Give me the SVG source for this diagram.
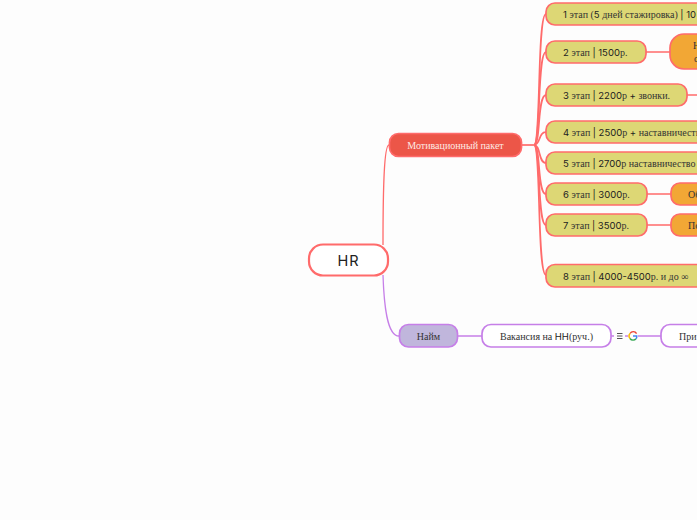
<svg xmlns="http://www.w3.org/2000/svg" width="697" height="520" viewBox="0 0 697 520">
<style>
text{font-family:"Liberation Serif",serif;font-size:10px;fill:#333}
.s{font-family:"Inter","Open Sans",sans-serif;font-size:9.500px;fill:#222}
.n{stroke:#ff6b6b;stroke-width:1.700}
.st{fill:#ddd775}
.or{fill:#f2a735}
.p{stroke:#c67fe8;stroke-width:1.700}
.c{fill:none;stroke:#ff6b6b;stroke-width:1.700}
.v{fill:none;stroke:#c67fe8;stroke-width:1.600}
</style>
<rect width="697" height="520" fill="#fdfdfd"/>
<g id="connectors">
<path class="c" d="M383 245C383 190 384 145 389 145" stroke-width="1.300" style="stroke-width:1.300"/>
<path class="v" d="M383 275C384 305 387 336 399 336" style="stroke-width:1.300"/>
<path class="c" d="M521 145H534"/>
<path class="c" d="M534 145C541 145 537 14 546 14"/>
<path class="c" d="M534 145C541 145 537 52 546 52"/>
<path class="c" d="M534 145C541 145 537 95 546 95"/>
<path class="c" d="M534 145C541 145 538 132 546 132"/>
<path class="c" d="M534 145C541 145 538 163 546 163"/>
<path class="c" d="M534 145C541 145 537 194 546 194"/>
<path class="c" d="M534 145C541 145 537 225 546 225"/>
<path class="c" d="M534 145C541 145 537 275 546 275"/>
<path class="c" d="M646 52H670M687 95H697M647 194H671M647 225H671"/>
<path class="v" d="M458 336H482M611 336H614M625 336H628M638 336H661"/>
</g>
<g id="hr"><rect class="n" x="309" y="244.500" width="79" height="31" rx="14" fill="#fff" style="stroke-width:2.200"/><text class="s" x="348.500" y="265.500" text-anchor="middle" style="font-size:14.500px;letter-spacing:1px">HR</text></g>
<g id="motiv"><rect class="n" x="389.500" y="133.500" width="132" height="23" rx="9" fill="#ec5648"/><text x="455.500" y="149" text-anchor="middle" style="fill:#fde9e4">Мотивационный пакет</text></g>
<g id="s1"><rect class="n st" x="546" y="3" width="170" height="22" rx="9"/><text x="563" y="18"><tspan class="s">1 </tspan>этап (<tspan class="s">5 </tspan>дней стажировка) <tspan class="s">| 10</tspan></text></g>
<g id="s2"><rect class="n st" x="546" y="41" width="100" height="22" rx="9"/><text x="563" y="56"><tspan class="s">2 </tspan>этап <tspan class="s">| 1500</tspan>р.</text></g>
<g id="o2"><rect class="n or" x="670" y="34" width="60" height="35" rx="14"/><text x="693" y="49">Н</text><text x="694" y="62">с</text></g>
<g id="s3"><rect class="n st" x="546" y="84" width="141" height="22" rx="9"/><text x="563" y="99"><tspan class="s">3 </tspan>этап <tspan class="s">| 2200</tspan>р <tspan class="s">+ </tspan>звонки.</text></g>
<g id="s4"><rect class="n st" x="546" y="121" width="170" height="22" rx="9"/><text x="563" y="136"><tspan class="s">4 </tspan>этап <tspan class="s">| 2500</tspan>р <tspan class="s">+ </tspan>наставничеств</text></g>
<g id="s5"><rect class="n st" x="546" y="152" width="170" height="22" rx="9"/><text x="563" y="167"><tspan class="s">5 </tspan>этап <tspan class="s">| 2700</tspan>р наставничество</text></g>
<g id="s6"><rect class="n st" x="546" y="183" width="101" height="22" rx="9"/><text x="563" y="198"><tspan class="s">6 </tspan>этап <tspan class="s">| 3000</tspan>р.</text></g>
<g id="o6"><rect class="n or" x="671" y="183" width="60" height="22" rx="9"/><text x="688" y="198">Об</text></g>
<g id="s7"><rect class="n st" x="546" y="214" width="101" height="22" rx="9"/><text x="563" y="229"><tspan class="s">7 </tspan>этап <tspan class="s">| 3500</tspan>р.</text></g>
<g id="o7"><rect class="n or" x="671" y="214" width="60" height="22" rx="9"/><text x="688" y="229">По</text></g>
<g id="s8"><rect class="n st" x="546" y="264.500" width="170" height="22.500" rx="9"/><text x="563" y="280"><tspan class="s">8 </tspan>этап <tspan class="s">| 4000-4500</tspan>р. и до ∞</text></g>
<g id="hire"><rect class="p" x="399.500" y="324.500" width="58" height="22.500" rx="9" fill="#c0b6dc"/><text x="428.500" y="340" text-anchor="middle">Найм</text></g>
<g id="vac"><rect class="p" x="482" y="324.500" width="129" height="22.500" rx="9" fill="#fff"/><text x="546.500" y="340" text-anchor="middle">Вакансия на <tspan class="s">HH</tspan>(руч.)</text></g>
<g id="icons"><path d="M617 333.500h5.500M617 336h5.500M617 338.500h5.500" stroke="#555" stroke-width="1" fill="none"/>
<path d="M636.600 333.600A3.800 3.800 0 0 0 630 333.500" fill="none" stroke="#ea4335" stroke-width="1.400"/>
<path d="M630 333.500A3.800 3.800 0 0 0 630 338.500" fill="none" stroke="#fbbc05" stroke-width="1.400"/>
<path d="M630 338.500A3.800 3.800 0 0 0 636 338.800" fill="none" stroke="#34a853" stroke-width="1.400"/>
<path d="M636 338.800Q637 337.800 636.800 336H633" fill="none" stroke="#4285f4" stroke-width="1.400"/></g>
<g id="pri"><rect class="p" x="661" y="324.500" width="70" height="22.500" rx="9" fill="#fff"/><text x="679" y="340">При</text></g>
</svg>
